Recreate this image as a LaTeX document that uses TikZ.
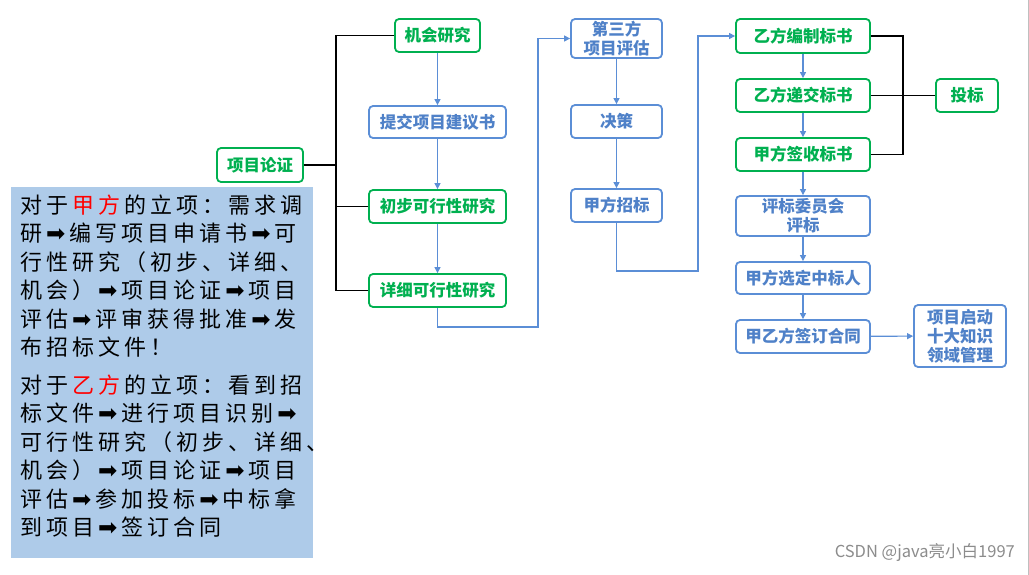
\documentclass[tikz,border=0pt]{standalone}
\usepackage{fontspec}
\setmainfont{Noto Sans CJK SC}
\newfontfamily\dejavu{DejaVu Sans}
\usetikzlibrary{arrows.meta}
\definecolor{gbox}{RGB}{0,176,80}
\definecolor{bline}{RGB}{91,142,214}
\definecolor{btext}{RGB}{79,129,200}
\definecolor{boxblue}{RGB}{174,203,233}
\newdimen\lspk \lspk=4pt
\makeatletter
\def\lsp#1{\lsp@#1\relax}
\def\lsp@#1{\ifx\relax#1\else#1\kern\lspk\expandafter\lsp@\fi}
\makeatother
\newcommand\ar{{\dejavu\fontsize{23}{26}\selectfont ➡}}
\tikzset{
  gnode/.style={draw=gbox, line width=1.8pt, rounded corners=4pt, fill=white,
    text=gbox, font=\fontsize{16.5}{19}\selectfont\bfseries, align=center, inner sep=0pt},
  bnode/.style={draw=bline, line width=1.8pt, rounded corners=4pt, fill=white,
    text=btext, font=\fontsize{16.5}{19}\selectfont\bfseries, align=center, inner sep=0pt},
  blk/.style={line width=1.8pt, black},
  barr/.style={draw=bline, line width=1.1pt, -{Triangle[length=6pt,width=6pt]}},
  tline/.style={anchor=west, inner sep=0pt, font=\fontsize{22}{26}\selectfont},
}
\begin{document}
\begin{tikzpicture}[x=1pt,y=-1pt]
\useasboundingbox (0,0) rectangle (1029,575);
\fill[white] (0,0) rectangle (1029,575);
\draw[black!25, line width=1pt] (1028.5,0) -- (1028.5,575);

% text box
\fill[boxblue] (11,187) rectangle (313,558);
\node[tline] (t1) at (20,205) {\lsp{对于}\textcolor{red}{\lsp{甲方}}\lsp{的立项：需求调}};
\node[tline] (t2) at (20,233.4) {\lsp{研\ar 编写项目申请书\ar 可}};
\node[tline] (t3) at (20,261.8) {\lsp{行性研究（初步、详细、}};
\node[tline] (t4) at (20,290.2) {\lsp{机会）\ar 项目论证\ar 项目}};
\node[tline] (t5) at (20,318.6) {\lsp{评估\ar 评审获得批准\ar 发}};
\node[tline] (t6) at (20,347) {\lsp{布招标文件！}};
\node[tline] (t7) at (20,385) {\lsp{对于}\textcolor{red}{\lsp{乙方}}\lsp{的立项：看到招}};
\node[tline] (t8) at (20,413.4) {\lsp{标文件\ar 进行项目识别\ar}};
\node[tline] (t9) at (20,441.8) {\lsp{可行性研究（初步、详细、}};
\node[tline] (t10) at (20,470.2) {\lsp{机会）\ar 项目论证\ar 项目}};
\node[tline] (t11) at (20,498.6) {\lsp{评估\ar 参加投标\ar 中标拿}};
\node[tline] (t12) at (20,527) {\lsp{到项目\ar 签订合同}};

% column 1
\node[gnode, minimum width=86pt, minimum height=34pt] (lz) at (260,165) {项目论证};
\node[gnode, minimum width=85pt, minimum height=33pt] (jh) at (437.5,35.5) {机会研究};
\node[bnode, minimum width=137pt, minimum height=32pt] (tj) at (437.5,122) {提交项目建议书};
\node[gnode, minimum width=137pt, minimum height=33pt] (cb) at (437.5,206.5) {初步可行性研究};
\node[gnode, minimum width=137pt, minimum height=33pt] (xx) at (437.5,290.5) {详细可行性研究};

% column 2
\node[bnode, minimum width=91pt, minimum height=39pt] (ps) at (616.5,38.5) {第三方\\项目评估};
\node[bnode, minimum width=91pt, minimum height=33pt] (jc) at (616.5,121.5) {决策};
\node[bnode, minimum width=91pt, minimum height=33pt] (zb) at (616.5,205.5) {甲方招标};

% column 3
\node[gnode, minimum width=134pt, minimum height=34pt] (bz) at (803,36) {乙方编制标书};
\node[gnode, minimum width=134pt, minimum height=33pt] (dj) at (803,95.5) {乙方递交标书};
\node[gnode, minimum width=134pt, minimum height=33pt] (qs) at (803,154.5) {甲方签收标书};
\node[bnode, minimum width=134pt, minimum height=40pt] (pb) at (803,216) {评标委员会\\评标};
\node[bnode, minimum width=134pt, minimum height=32pt] (xd) at (803,278) {甲方选定中标人};
\node[bnode, minimum width=134pt, minimum height=33pt] (qd) at (803,336.5) {甲乙方签订合同};
\node[gnode, minimum width=62pt, minimum height=33pt] (tb) at (967,95.5) {投标};
\node[bnode, minimum width=92pt, minimum height=62pt] (qd2) at (960,336) {项目启动\\十大知识\\领域管理};

% black brackets
\coordinate (b1) at (336,165);
\draw[blk] (lz.east) -- (b1);
\draw[blk] (jh.west) -| (b1) |- (xx.west);
\draw[blk] (cb.west) -- (cb.west -| b1);
\coordinate (b2) at (903,95.5);
\draw[blk] (bz.east) -| (b2) |- (qs.east);
\draw[blk] (dj.east) -- (tb.west);

% blue arrows
\draw[barr] (jh) -- (tj);
\draw[barr] (tj) -- (cb);
\draw[barr] (cb) -- (xx);
\coordinate (c1) at (538,327);
\draw[barr] (xx.south) |- (c1) |- (ps.west);
\draw[barr] (ps) -- (jc);
\draw[barr] (jc) -- (zb);
\coordinate (c2) at (698,271);
\draw[barr] (zb.south) |- (c2) |- (bz.west);
\draw[barr] (bz) -- (dj);
\draw[barr] (dj) -- (qs);
\draw[barr] (qs) -- (pb);
\draw[barr] (pb) -- (xd);
\draw[barr] (xd) -- (qd);
\draw[barr] (qd) -- (qd2);

% watermark
\node[anchor=east, inner sep=0pt, text=black!45, font=\fontsize{16.5}{18}\selectfont] (wm) at (1015,553) {CSDN @java亮小白1997};
\end{tikzpicture}
\end{document}
